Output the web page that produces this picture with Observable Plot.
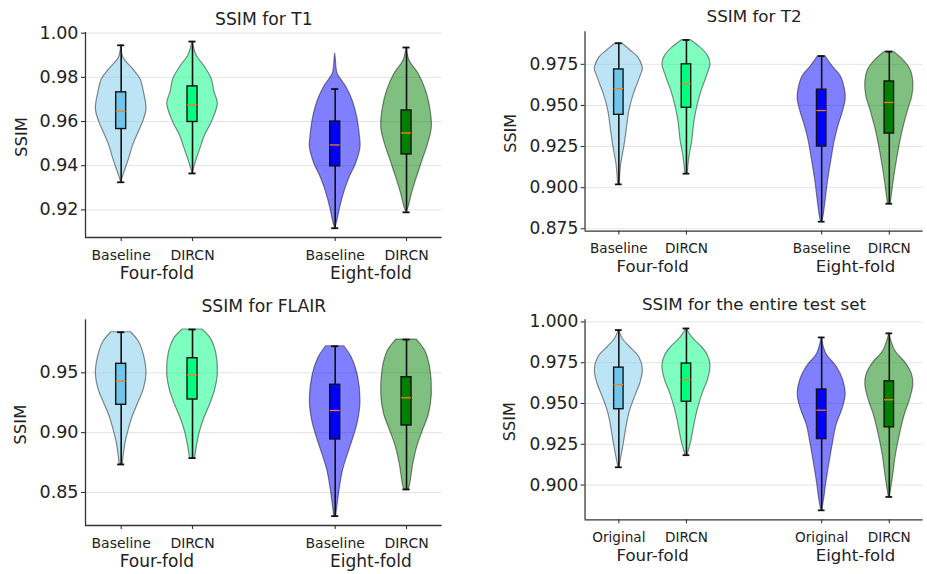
<!DOCTYPE html>
<html>
<head>
<meta charset="utf-8">
<script src="https://cdn.jsdelivr.net/npm/d3@7"></script>
<script src="https://cdn.jsdelivr.net/npm/@observablehq/plot@0.6"></script>
<style>
  body { margin: 0; background: #fff; }
  #fig { position: relative; width: 927px; height: 574px; overflow: hidden; font-family: "DejaVu Sans", sans-serif; background: #fff; }
  .panel { position: absolute; }
</style>
</head>
<body>
<div id="fig"></div>
<script>
// ---------------- DATA ----------------
const titles = ["SSIM for T1", "SSIM for T2", "SSIM for FLAIR", "SSIM for the entire test set"];
const methodLabels = ["Baseline", "DIRCN", "Baseline", "DIRCN"];
const methodLabelsAll = ["Original", "DIRCN", "Original", "DIRCN"];
const groupLabels = ["Four-fold", "Eight-fold"];
const yLabel = "SSIM";

const t1Ticks = [0.92, 0.94, 0.96, 0.98, 1.00];
const t2Ticks = [0.875, 0.900, 0.925, 0.950, 0.975];
const flairTicks = [0.85, 0.90, 0.95];
const allTicks = [0.900, 0.925, 0.950, 0.975, 1.000];

// box statistics: [Baseline/Original 4x, DIRCN 4x, Baseline/Original 8x, DIRCN 8x]
const t1Hi  = [0.9945, 0.9962, 0.9747, 0.9935];
const t1Q3  = [0.9732, 0.9759, 0.9600, 0.9650];
const t1Med = [0.9647, 0.9675, 0.9494, 0.9548];
const t1Q1  = [0.9566, 0.9598, 0.9397, 0.9451];
const t1Lo  = [0.9325, 0.9365, 0.9117, 0.9189];

const t2Hi  = [0.9878, 0.9898, 0.9800, 0.9827];
const t2Q3  = [0.9719, 0.9750, 0.9596, 0.9646];
const t2Med = [0.9602, 0.9632, 0.9469, 0.9518];
const t2Q1  = [0.9443, 0.9486, 0.9250, 0.9329];
const t2Lo  = [0.9020, 0.9085, 0.8793, 0.8902];

const flairHi  = [0.9839, 0.9862, 0.9722, 0.9778];
const flairQ3  = [0.9575, 0.9622, 0.9400, 0.9463];
const flairMed = [0.9430, 0.9483, 0.9185, 0.9291];
const flairQ1  = [0.9233, 0.9277, 0.8943, 0.9060];
const flairLo  = [0.8734, 0.8787, 0.8302, 0.8525];

const allHi  = [0.9950, 0.9960, 0.9905, 0.9930];
const allQ3  = [0.9720, 0.9745, 0.9586, 0.9636];
const allMed = [0.9616, 0.9646, 0.9459, 0.9523];
const allQ1  = [0.9465, 0.9511, 0.9282, 0.9354];
const allLo  = [0.9109, 0.9183, 0.8845, 0.8927];

// violin profiles: [SSIM value, relative density width]
const t1Violins = [
  [[0.9945,0],[0.9889,0.09],[0.9837,0.47],[0.9792,0.76],[0.9732,0.9],[0.9656,1.0],[0.9596,0.86],[0.9551,0.69],[0.9491,0.47],[0.9430,0.31],[0.9370,0.13],[0.9325,0]],
  [[0.9962,0],[0.9897,0.17],[0.9852,0.46],[0.9792,0.76],[0.9732,0.87],[0.9680,1.0],[0.9596,0.76],[0.9536,0.49],[0.9476,0.31],[0.9415,0.13],[0.9365,0]],
  [[0.9908,0],[0.9875,0.03],[0.9845,0.05],[0.9815,0.1],[0.9754,0.45],[0.9694,0.69],[0.9619,0.87],[0.9528,0.98],[0.9483,1.0],[0.9408,0.82],[0.9347,0.57],[0.9287,0.38],[0.9212,0.2],[0.9152,0.09],[0.9115,0]],
  [[0.9935,0],[0.9875,0.12],[0.9815,0.48],[0.9739,0.77],[0.9664,0.93],[0.9573,1.0],[0.9498,0.85],[0.9423,0.63],[0.9347,0.41],[0.9272,0.21],[0.9212,0.08],[0.9189,0]]
];
const t2Violins = [
  [[0.9878,0.13],[0.9833,0.5],[0.9794,0.8],[0.9735,0.99],[0.9715,1.0],[0.9695,0.95],[0.9636,0.8],[0.9557,0.6],[0.9459,0.43],[0.9341,0.32],[0.9242,0.22],[0.9144,0.1],[0.9065,0.05],[0.9020,0.03]],
  [[0.9898,0.17],[0.9853,0.58],[0.9803,0.89],[0.9754,1.0],[0.9676,0.85],[0.9596,0.65],[0.9498,0.46],[0.9400,0.33],[0.9282,0.24],[0.9183,0.12],[0.9085,0.05]],
  [[0.9800,0.15],[0.9735,0.47],[0.9676,0.8],[0.9596,0.97],[0.9537,1.0],[0.9459,0.88],[0.9380,0.71],[0.9282,0.54],[0.9163,0.4],[0.9045,0.27],[0.8927,0.17],[0.8829,0.08],[0.8793,0.03]],
  [[0.9827,0.18],[0.9774,0.6],[0.9715,0.89],[0.9646,1.0],[0.9557,0.96],[0.9478,0.8],[0.9360,0.58],[0.9242,0.41],[0.9124,0.27],[0.9006,0.15],[0.8902,0.06]]
];
const flairViolins = [
  [[0.9839,0.39],[0.9756,0.71],[0.9645,0.9],[0.9492,1.0],[0.9366,0.9],[0.9254,0.69],[0.9143,0.47],[0.9032,0.31],[0.8920,0.18],[0.8809,0.1],[0.8734,0.06]],
  [[0.9862,0.39],[0.9784,0.73],[0.9672,0.93],[0.9492,1.0],[0.9338,0.87],[0.9227,0.68],[0.9116,0.46],[0.9004,0.29],[0.8893,0.18],[0.8787,0.1]],
  [[0.9722,0.36],[0.9630,0.65],[0.9492,0.88],[0.9269,1.0],[0.9102,0.91],[0.8962,0.73],[0.8823,0.51],[0.8684,0.31],[0.8544,0.19],[0.8406,0.1],[0.8302,0.04]],
  [[0.9778,0.4],[0.9686,0.73],[0.9547,0.93],[0.9325,1.0],[0.9158,0.89],[0.9018,0.65],[0.8879,0.42],[0.8740,0.27],[0.8601,0.17],[0.8525,0.1]]
];
const allViolins = [
  [[0.9950,0],[0.9894,0.17],[0.9845,0.47],[0.9785,0.85],[0.9706,1.0],[0.9626,0.9],[0.9547,0.69],[0.9447,0.45],[0.9348,0.31],[0.9249,0.2],[0.9169,0.1],[0.9109,0.02]],
  [[0.9960,0],[0.9905,0.24],[0.9845,0.65],[0.9795,0.89],[0.9735,1.0],[0.9646,0.9],[0.9567,0.69],[0.9467,0.48],[0.9368,0.33],[0.9268,0.2],[0.9183,0.04]],
  [[0.9905,0],[0.9805,0.19],[0.9726,0.62],[0.9646,0.89],[0.9556,1.0],[0.9467,0.87],[0.9368,0.62],[0.9249,0.46],[0.9130,0.32],[0.9010,0.19],[0.8911,0.1],[0.8845,0.02]],
  [[0.9930,0],[0.9825,0.24],[0.9745,0.7],[0.9676,0.95],[0.9616,1.0],[0.9527,0.87],[0.9428,0.64],[0.9308,0.44],[0.9189,0.28],[0.9070,0.17],[0.8970,0.07],[0.8927,0.02]]
];

// ---------------- STYLE / LAYOUT ----------------
const positions = [1, 2, 4, 5];
const groupPositions = [1.5, 4.5];
const violinFill = ["#87ceeb", "#00ff7f", "#0000ff", "#008000"];
const violinOpacity = [0.55, 0.5, 0.5, 0.5];
const boxFill = ["#6fc6ea", "#00ff7f", "#0000ff", "#008000"];
const HALF = 0.355, BOXH = 0.07, CAPH = 0.05;
const FONT = "DejaVu Sans";
const ink = "#222";

const panels = [
  {title: titles[0], labels: methodLabels, ticks: t1Ticks, fmt: ".2f", violins: t1Violins,
   hi: t1Hi, q3: t1Q3, med: t1Med, q1: t1Q1, lo: t1Lo,
   left: 0, top: 0, width: 460, height: 290, mL: 85, mR: 18.3, mT: 32, mB: 53,
   domain: [0.9075, 1.0003], titleDy: -13.5, ylabDx: -64, ylabDy: 2},
  {title: titles[1], labels: methodLabels, ticks: t2Ticks, fmt: ".3f", violins: t2Violins,
   hi: t2Hi, q3: t2Q3, med: t2Med, q1: t2Q1, lo: t2Lo,
   left: 460, top: 0, width: 480, height: 290, mL: 128, mR: 4.5, mT: 32, mB: 53,
   domain: [0.8736, 0.9949], titleDy: -15, ylabDx: -76, ylabDy: 2},
  {title: titles[2], labels: methodLabels, ticks: flairTicks, fmt: ".2f", violins: flairViolins,
   hi: flairHi, q3: flairQ3, med: flairMed, q1: flairQ1, lo: flairLo,
   left: 0, top: 290, width: 460, height: 284, mL: 85, mR: 18.3, mT: 29.3, mB: 49,
   domain: [0.8224, 0.9943], titleDy: -13.5, ylabDx: -65, ylabDy: 2},
  {title: titles[3], labels: methodLabelsAll, ticks: allTicks, fmt: ".3f", violins: allViolins,
   hi: allHi, q3: allQ3, med: allMed, q1: allQ1, lo: allLo,
   left: 460, top: 290, width: 480, height: 284, mL: 128, mR: 4.5, mT: 30, mB: 48.3,
   domain: [0.8787, 1.0014], titleDy: -15, ylabDx: -77, ylabDy: 2}
];

const fig = document.getElementById("fig");
const idx = [0, 1, 2, 3];

for (const p of panels) {
  const violinMarks = p.violins.map((shape, i) =>
    Plot.areaX(shape, {
      y: d => d[0],
      x1: d => positions[i] - d[1] * HALF,
      x2: d => positions[i] + d[1] * HALF,
      fill: violinFill[i], fillOpacity: violinOpacity[i],
      stroke: "#000", strokeOpacity: 0.45, strokeWidth: 1.2,
      curve: "catmull-rom"
    })
  );
  const chart = Plot.plot({
    width: p.width, height: p.height,
    marginLeft: p.mL, marginRight: p.mR, marginTop: p.mT, marginBottom: p.mB,
    x: {domain: [0.5, 5.5], axis: null},
    y: {domain: p.domain, axis: null},
    style: {fontFamily: FONT, color: ink, background: "transparent", overflow: "visible"},
    marks: [
      Plot.gridY(p.ticks, {stroke: "#e4e4e4", strokeOpacity: 1, strokeWidth: 1}),
      ...violinMarks,
      Plot.ruleX(idx, {x: i => positions[i], y1: i => p.lo[i], y2: i => p.hi[i], stroke: "#111", strokeWidth: 1.6}),
      Plot.ruleY(idx, {y: i => p.hi[i], x1: i => positions[i] - CAPH, x2: i => positions[i] + CAPH, stroke: "#111", strokeWidth: 1.8}),
      Plot.ruleY(idx, {y: i => p.lo[i], x1: i => positions[i] - CAPH, x2: i => positions[i] + CAPH, stroke: "#111", strokeWidth: 1.8}),
      Plot.rect(idx, {x1: i => positions[i] - BOXH, x2: i => positions[i] + BOXH, y1: i => p.q1[i], y2: i => p.q3[i],
        fill: i => boxFill[i], stroke: "#111", strokeWidth: 1.4}),
      Plot.ruleY(idx, {y: i => p.med[i], x1: i => positions[i] - BOXH, x2: i => positions[i] + BOXH, stroke: "#ff7f0e", strokeWidth: 1.3}),
      Plot.ruleX([0.5], {stroke: "#333", strokeWidth: 1.3}),
      Plot.ruleY([p.domain[0]], {stroke: "#333", strokeWidth: 1.3}),
      Plot.axisY(p.ticks, {tickSize: 4, tickPadding: 3, tickFormat: d3.format(p.fmt), fontSize: 17.5, label: null, stroke: "#333", strokeWidth: 1.1}),
      Plot.axisX(positions, {tickSize: 4, tickPadding: 8.5, tickFormat: d => p.labels[positions.indexOf(d)], fontSize: 14, label: null, stroke: "#333", strokeWidth: 1.1}),
      Plot.text(groupLabels, {x: (d, i) => groupPositions[i], frameAnchor: "bottom", lineAnchor: "middle", dy: 36.5, fontSize: 17, fill: ink}),
      Plot.text([p.title], {frameAnchor: "top", lineAnchor: "middle", dy: p.titleDy, fontSize: 17.2, fill: ink}),
      Plot.text([yLabel], {frameAnchor: "left", textAnchor: "middle", lineAnchor: "middle", rotate: -90, dx: p.ylabDx, dy: p.ylabDy, fontSize: 16.5, fill: ink})
    ]
  });
  const holder = document.createElement("div");
  holder.className = "panel";
  holder.style.left = p.left + "px";
  holder.style.top = p.top + "px";
  holder.appendChild(chart);
  fig.appendChild(holder);
}
</script>
</body>
</html>
